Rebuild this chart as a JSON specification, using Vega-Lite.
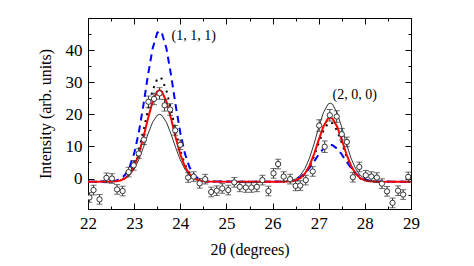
{
  "$schema": "https://vega.github.io/schema/vega-lite/v6.json",
  "width": 323,
  "height": 191,
  "autosize": "none",
  "padding": {"left": 88, "top": 18, "right": 63, "bottom": 57},
  "background": "white",
  "config": {
    "view": {"stroke": "black", "strokeWidth": 1},
    "font": "Liberation Serif"
  },
  "datasets": {
    "curves": [
      {"x": 22.0, "red": -1, "blue": -1, "dot": -1, "thin": -1},
      {"x": 22.5, "red": -0.96, "blue": -0.90, "dot": -0.95, "thin": -0.95},
      {"x": 22.6, "red": -0.87, "blue": -0.69, "dot": -0.85, "thin": -0.86},
      {"x": 22.7, "red": -0.61, "blue": -0.15, "dot": -0.56, "thin": -0.62},
      {"x": 22.8, "red": 0.01, "blue": 1.06, "dot": 0.15, "thin": -0.08},
      {"x": 22.9, "red": 1.31, "blue": 3.49, "dot": 1.64, "thin": 1.01},
      {"x": 23.0, "red": 3.72, "blue": 7.76, "dot": 4.38, "thin": 2.91},
      {"x": 23.1, "red": 7.55, "blue": 14.26, "dot": 8.75, "thin": 5.82},
      {"x": 23.2, "red": 12.76, "blue": 22.80, "dot": 14.69, "thin": 9.63},
      {"x": 23.3, "red": 18.66, "blue": 32.21, "dot": 21.42, "thin": 13.84},
      {"x": 23.4, "red": 23.93, "blue": 40.48, "dot": 27.43, "thin": 17.53},
      {"x": 23.5, "red": 27.08, "blue": 45.35, "dot": 31.02, "thin": 19.71},
      {"x": 23.55, "red": 27.5, "blue": 46, "dot": 31.5, "thin": 20},
      {"x": 23.6, "red": 27.08, "blue": 45.35, "dot": 31.02, "thin": 19.71},
      {"x": 23.7, "red": 23.93, "blue": 40.48, "dot": 27.43, "thin": 17.53},
      {"x": 23.8, "red": 18.66, "blue": 32.21, "dot": 21.42, "thin": 13.84},
      {"x": 23.9, "red": 12.76, "blue": 22.80, "dot": 14.69, "thin": 9.63},
      {"x": 24.0, "red": 7.55, "blue": 14.26, "dot": 8.75, "thin": 5.82},
      {"x": 24.1, "red": 3.72, "blue": 7.76, "dot": 4.38, "thin": 2.91},
      {"x": 24.2, "red": 1.31, "blue": 3.49, "dot": 1.64, "thin": 1.01},
      {"x": 24.3, "red": 0.01, "blue": 1.06, "dot": 0.15, "thin": -0.08},
      {"x": 24.4, "red": -0.61, "blue": -0.15, "dot": -0.56, "thin": -0.62},
      {"x": 24.5, "red": -0.87, "blue": -0.69, "dot": -0.85, "thin": -0.86},
      {"x": 24.6, "red": -0.96, "blue": -0.90, "dot": -0.95, "thin": -0.95},
      {"x": 25.4, "red": -1, "blue": -1, "dot": -1, "thin": -1},
      {"x": 26.2, "red": -0.99, "blue": -0.95, "dot": -0.99, "thin": -0.97},
      {"x": 26.3, "red": -0.96, "blue": -0.86, "dot": -0.96, "thin": -0.88},
      {"x": 26.4, "red": -0.86, "blue": -0.66, "dot": -0.87, "thin": -0.67},
      {"x": 26.5, "red": -0.58, "blue": -0.26, "dot": -0.61, "thin": -0.14},
      {"x": 26.6, "red": 0.10, "blue": 0.46, "dot": 0.02, "thin": 0.99},
      {"x": 26.7, "red": 1.51, "blue": 1.63, "dot": 1.32, "thin": 3.05},
      {"x": 26.8, "red": 3.99, "blue": 3.28, "dot": 3.61, "thin": 6.35},
      {"x": 26.9, "red": 7.63, "blue": 5.32, "dot": 6.98, "thin": 10.83},
      {"x": 27.0, "red": 12.03, "blue": 7.48, "dot": 11.05, "thin": 15.90},
      {"x": 27.1, "red": 16.14, "blue": 9.30, "dot": 14.85, "thin": 20.43},
      {"x": 27.2, "red": 18.66, "blue": 10.36, "dot": 17.19, "thin": 23.14},
      {"x": 27.25, "red": 19, "blue": 10.5, "dot": 17.5, "thin": 23.5},
      {"x": 27.3, "red": 18.66, "blue": 10.36, "dot": 17.19, "thin": 23.14},
      {"x": 27.4, "red": 16.14, "blue": 9.30, "dot": 14.85, "thin": 20.43},
      {"x": 27.5, "red": 12.03, "blue": 7.48, "dot": 11.05, "thin": 15.90},
      {"x": 27.6, "red": 7.63, "blue": 5.32, "dot": 6.98, "thin": 10.83},
      {"x": 27.7, "red": 3.99, "blue": 3.28, "dot": 3.61, "thin": 6.35},
      {"x": 27.8, "red": 1.51, "blue": 1.63, "dot": 1.32, "thin": 3.05},
      {"x": 27.9, "red": 0.10, "blue": 0.46, "dot": 0.02, "thin": 0.99},
      {"x": 28.0, "red": -0.58, "blue": -0.26, "dot": -0.61, "thin": -0.14},
      {"x": 28.1, "red": -0.86, "blue": -0.66, "dot": -0.87, "thin": -0.67},
      {"x": 28.2, "red": -0.96, "blue": -0.86, "dot": -0.96, "thin": -0.88},
      {"x": 28.3, "red": -0.99, "blue": -0.95, "dot": -0.99, "thin": -0.97},
      {"x": 29.0, "red": -1, "blue": -1, "dot": -1, "thin": -1}
    ],
    "pts": [
      {"x": 22.03, "y": -5.9, "err": 1.5},
      {"x": 22.12, "y": -3.6, "err": 1.5},
      {"x": 22.25, "y": -6.5, "err": 1.5},
      {"x": 22.40, "y": 0.2, "err": 1.5},
      {"x": 22.52, "y": 0.0, "err": 1.5},
      {"x": 22.63, "y": -3.4, "err": 1.5},
      {"x": 22.75, "y": -3.9, "err": 1.5},
      {"x": 22.88, "y": 2.0, "err": 1.5},
      {"x": 22.99, "y": 4.1, "err": 1.5},
      {"x": 23.1, "y": 7.8, "err": 1.5},
      {"x": 23.21, "y": 12.1, "err": 1.5},
      {"x": 23.31, "y": 23.9, "err": 1.8},
      {"x": 23.43, "y": 24.8, "err": 1.8},
      {"x": 23.55, "y": 26.5, "err": 1.8},
      {"x": 23.66, "y": 22.8, "err": 1.8},
      {"x": 23.78, "y": 21.5, "err": 1.8},
      {"x": 23.89, "y": 15.0, "err": 1.5},
      {"x": 24.0, "y": 10.5, "err": 1.5},
      {"x": 24.17, "y": 0.3, "err": 1.5},
      {"x": 24.29, "y": 0.6, "err": 1.5},
      {"x": 24.42, "y": -1.5, "err": 1.5},
      {"x": 24.54, "y": -0.2, "err": 1.5},
      {"x": 24.67, "y": -4.2, "err": 1.5},
      {"x": 24.79, "y": -3.8, "err": 1.5},
      {"x": 24.91, "y": -3.1, "err": 1.5},
      {"x": 25.04, "y": -3.6, "err": 1.5},
      {"x": 25.17, "y": -1.2, "err": 1.5},
      {"x": 25.29, "y": -2.6, "err": 1.5},
      {"x": 25.42, "y": -2.8, "err": 1.5},
      {"x": 25.54, "y": -2.8, "err": 1.5},
      {"x": 25.66, "y": -2.6, "err": 1.5},
      {"x": 25.78, "y": -0.5, "err": 1.5},
      {"x": 25.91, "y": -3.9, "err": 1.5},
      {"x": 26.02, "y": 1.6, "err": 1.5},
      {"x": 26.12, "y": 4.5, "err": 1.5},
      {"x": 26.24, "y": 0.6, "err": 1.5},
      {"x": 26.38, "y": -0.2, "err": 1.5},
      {"x": 26.5, "y": -2.3, "err": 1.5},
      {"x": 26.6, "y": -2.2, "err": 1.5},
      {"x": 26.72, "y": -0.5, "err": 1.5},
      {"x": 26.87, "y": 2.2, "err": 1.5},
      {"x": 27.01, "y": 16.5, "err": 1.8},
      {"x": 27.13, "y": 9.9, "err": 1.8},
      {"x": 27.24, "y": 19.7, "err": 1.8},
      {"x": 27.39, "y": 19.3, "err": 1.8},
      {"x": 27.5, "y": 13.8, "err": 1.8},
      {"x": 27.61, "y": 11.4, "err": 1.5},
      {"x": 27.74, "y": 0.4, "err": 1.5},
      {"x": 27.88, "y": 3.6, "err": 1.5},
      {"x": 28.02, "y": 1.0, "err": 1.5},
      {"x": 28.14, "y": 0.6, "err": 1.5},
      {"x": 28.26, "y": 0.3, "err": 1.5},
      {"x": 28.37, "y": -1.6, "err": 1.5},
      {"x": 28.48, "y": -4.0, "err": 1.5},
      {"x": 28.6, "y": -7.6, "err": 1.5},
      {"x": 28.72, "y": -3.8, "err": 1.5},
      {"x": 28.83, "y": -5.0, "err": 1.5},
      {"x": 28.94, "y": 0.5, "err": 1.5}
    ],
    "labels": [
      {"x": 23.81, "y": 44.3, "t": "(1, 1, 1)"},
      {"x": 27.3, "y": 25.9, "t": "(2, 0, 0)"}
    ]
  },
  "resolve": {"axis": {"x": "independent", "y": "independent"}},
  "layer": [
    {
      "data": {"name": "curves"},
      "mark": {"type": "line", "color": "black", "strokeWidth": 0.8, "clip": true},
      "encoding": {
        "x": {"field": "x", "type": "quantitative",
          "scale": {"domain": [22, 29], "nice": false, "zero": false},
          "axis": {"orient": "bottom", "grid": false,
            "values": [22, 22.5, 23, 23.5, 24, 24.5, 25, 25.5, 26, 26.5, 27, 27.5, 28, 28.5, 29],
            "labelExpr": "datum.value % 1 === 0 ? format(datum.value, 'd') : ''",
            "tickSize": {"condition": {"test": "datum.value % 1 === 0", "value": -6}, "value": -3},
            "tickColor": "black", "domainColor": "black", "labelColor": "black",
            "labelFont": "Liberation Serif", "labelFontSize": 17, "labelPadding": 12,
            "labelFlush": false, "labelOverlap": false,
            "title": "2θ (degrees)", "titleFont": "Liberation Serif", "titleFontSize": 16,
            "titleFontWeight": "normal", "titleColor": "black", "titlePadding": 7}},
        "y": {"field": "thin", "type": "quantitative",
          "scale": {"domain": [-9.5, 50], "nice": false, "zero": false},
          "axis": {"orient": "left", "grid": false,
            "values": [-5, 0, 5, 10, 15, 20, 25, 30, 35, 40, 45],
            "labelExpr": "datum.value % 10 === 0 ? format(datum.value, 'd') : ''",
            "tickSize": {"condition": {"test": "datum.value % 10 === 0", "value": -6}, "value": -3},
            "tickColor": "black", "domainColor": "black", "labelColor": "black",
            "labelFont": "Liberation Serif", "labelFontSize": 17, "labelPadding": 12,
            "labelFlush": false, "labelOverlap": false,
            "title": "Intensity (arb. units)", "titleFont": "Liberation Serif", "titleFontSize": 16,
            "titleFontWeight": "normal", "titleColor": "black", "titlePadding": 12}}
      }
    },
    {
      "data": {"name": "curves"},
      "mark": {"type": "line", "color": "black", "strokeWidth": 2, "strokeDash": [2, 5], "clip": true},
      "encoding": {
        "x": {"field": "x", "type": "quantitative",
          "axis": {"orient": "top", "grid": false, "labels": false, "title": null,
            "values": [22, 22.5, 23, 23.5, 24, 24.5, 25, 25.5, 26, 26.5, 27, 27.5, 28, 28.5, 29],
            "tickSize": {"condition": {"test": "datum.value % 1 === 0", "value": -6}, "value": -3},
            "tickColor": "black", "domainColor": "black"}},
        "y": {"field": "dot", "type": "quantitative",
          "axis": {"orient": "right", "grid": false, "labels": false, "title": null,
            "values": [-5, 0, 5, 10, 15, 20, 25, 30, 35, 40, 45],
            "tickSize": {"condition": {"test": "datum.value % 10 === 0", "value": -6}, "value": -3},
            "tickColor": "black", "domainColor": "black"}}
      }
    },
    {
      "data": {"name": "curves"},
      "mark": {"type": "line", "color": "#0000ff", "strokeWidth": 2, "strokeDash": [7, 5], "clip": true},
      "encoding": {
        "x": {"field": "x", "type": "quantitative", "axis": null},
        "y": {"field": "blue", "type": "quantitative", "axis": null}
      }
    },
    {
      "data": {"name": "curves"},
      "mark": {"type": "line", "color": "#ff0000", "strokeWidth": 2, "clip": true},
      "encoding": {
        "x": {"field": "x", "type": "quantitative", "axis": null},
        "y": {"field": "red", "type": "quantitative", "axis": null}
      }
    },
    {
      "data": {"name": "pts"},
      "mark": {"type": "errorbar", "ticks": {"size": 6, "color": "#333333"}, "color": "#333333", "thickness": 1, "clip": true},
      "encoding": {
        "x": {"field": "x", "type": "quantitative", "axis": null},
        "y": {"field": "y", "type": "quantitative", "axis": null},
        "yError": {"field": "err"}
      }
    },
    {
      "data": {"name": "pts"},
      "mark": {"type": "point", "shape": "circle", "size": 28, "filled": false, "fill": "white", "fillOpacity": 1, "stroke": "#333333", "strokeWidth": 1, "opacity": 1, "clip": true},
      "encoding": {
        "x": {"field": "x", "type": "quantitative", "axis": null},
        "y": {"field": "y", "type": "quantitative", "axis": null}
      }
    },
    {
      "data": {"name": "labels"},
      "mark": {"type": "text", "align": "left", "baseline": "middle", "font": "Liberation Serif", "fontSize": 14, "color": "black"},
      "encoding": {
        "x": {"field": "x", "type": "quantitative", "axis": null},
        "y": {"field": "y", "type": "quantitative", "axis": null},
        "text": {"field": "t"}
      }
    }
  ]
}
